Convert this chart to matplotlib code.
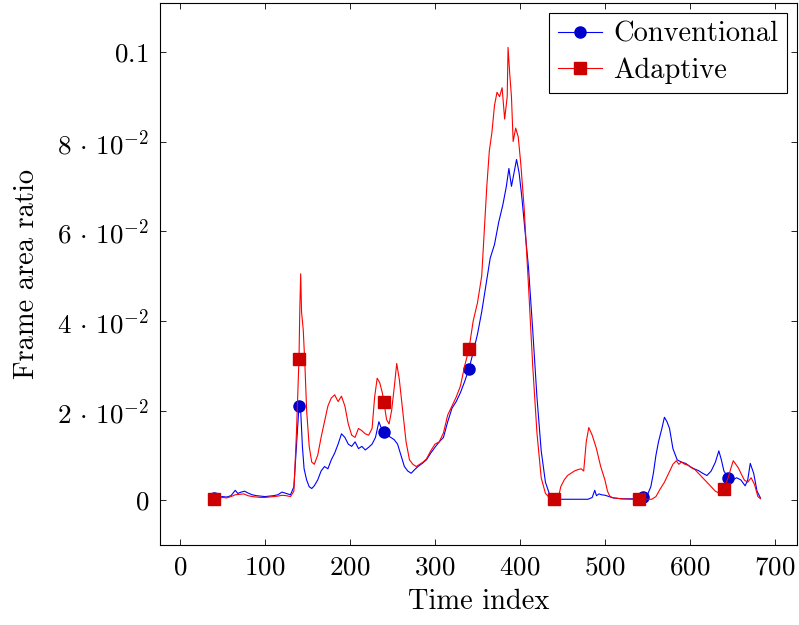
import numpy as np
import matplotlib
matplotlib.use("Agg")
import matplotlib.pyplot as plt

# Conventional (blue) series
conv_t = [40, 45, 50, 55, 60, 65, 68, 72, 76, 80, 85, 90, 95, 100, 105, 110, 115, 120, 125, 130,
          134, 137, 140, 142, 144, 146, 149, 152, 155, 158, 162, 166, 170, 174, 178, 182, 186, 190,
          194, 198, 202, 206, 210, 214, 218, 222, 226, 230, 234, 237, 240, 244, 248, 252, 256, 260,
          264, 268, 272, 276, 280, 285, 290, 295, 300, 305, 310, 315, 320, 325, 330, 335, 340, 345,
          350, 355, 360, 365, 370, 375, 380, 384, 387, 390, 393, 396, 399, 402, 405, 410, 415, 420,
          425, 430, 435, 440, 450, 460, 470, 480, 485, 488, 490, 493, 496, 500, 505, 510, 520, 530,
          540, 545, 550, 554, 557, 560, 563, 567, 570, 573, 576, 580, 585, 590, 595, 600, 605, 610,
          615, 620, 625, 630, 634, 637, 640, 645, 650, 655, 660, 665, 668, 671, 675, 679, 683]
conv_v = [0.0005, 0.0006, 0.0008, 0.0007, 0.001, 0.0022, 0.0015, 0.0018, 0.002, 0.0016, 0.0012,
          0.0010, 0.0009, 0.0008, 0.0009, 0.0010, 0.0012, 0.0018, 0.0015, 0.0012,
          0.0030, 0.0120, 0.0210, 0.0200, 0.0120, 0.0070, 0.0045, 0.0030, 0.0026, 0.0032, 0.0045,
          0.0065, 0.0075, 0.0070, 0.0090, 0.0105, 0.0125, 0.0148,
          0.0140, 0.0125, 0.0120, 0.0130, 0.0115, 0.0120, 0.0112, 0.0118, 0.0125, 0.0140, 0.0175,
          0.0160, 0.0153, 0.0145, 0.0140, 0.0135, 0.0125, 0.0100,
          0.0075, 0.0065, 0.0060, 0.0068, 0.0075, 0.0082, 0.0090, 0.0105, 0.0118, 0.0130, 0.0140,
          0.0175, 0.0205, 0.0220, 0.0240, 0.0265, 0.0293, 0.0330,
          0.0370, 0.0420, 0.0480, 0.0540, 0.0570, 0.0620, 0.0660, 0.0700, 0.0740, 0.0700, 0.0730,
          0.0760, 0.0730, 0.0680, 0.0620, 0.0520, 0.0380, 0.0230,
          0.0110, 0.0040, 0.0012, 0.0003, 0.0002, 0.0002, 0.0002, 0.0002, 0.0006, 0.0022, 0.0010,
          0.0014, 0.0012, 0.0011, 0.0008, 0.0005, 0.0003, 0.0003,
          0.0003, 0.0008, 0.0012, 0.0030, 0.0060, 0.0100, 0.0130, 0.0160, 0.0185, 0.0175, 0.0160,
          0.0115, 0.0090, 0.0085, 0.0082, 0.0075, 0.0070, 0.0066,
          0.0060, 0.0055, 0.0065, 0.0085, 0.0110, 0.0090, 0.0065, 0.0050, 0.0045, 0.0050, 0.0045,
          0.0032, 0.0045, 0.0082, 0.0060, 0.0020, 0.0005]

# Adaptive (red) series
adap_t = [40, 45, 50, 55, 60, 65, 70, 75, 80, 85, 90, 95, 100, 105, 110, 115, 120, 125, 130,
          134, 137, 140, 141, 142, 143, 145, 147, 149, 152, 155, 158, 162, 166, 170, 174, 178, 182,
          186, 190, 194, 198, 202, 206, 210, 214, 218, 222, 226, 229, 232, 235, 238, 240, 243, 246,
          249, 252, 255, 258, 262, 266, 270, 274, 278, 282, 286, 290, 295, 300, 305, 310, 315, 320,
          325, 330, 335, 340, 345, 350, 355, 358, 361, 364, 367, 370, 373, 376, 379, 382, 385, 386,
          388, 390, 392, 395, 398, 401, 405, 410, 415, 420, 425, 430, 435, 440, 445, 448, 452, 456,
          460, 464, 468, 472, 475, 478, 481, 485, 490, 495, 500, 503, 506, 510, 520, 530, 540, 550,
          555, 560, 565, 570, 575, 580, 584, 587, 590, 594, 598, 602, 606, 610, 615, 620, 625, 630,
          635, 640, 645, 648, 651, 654, 657, 660, 664, 668, 672, 676, 680, 683]
adap_v = [0.0003, 0.0004, 0.0006, 0.0005, 0.0008, 0.0012, 0.0013, 0.0014, 0.0010, 0.0008,
          0.0007, 0.0006, 0.0006, 0.0007, 0.0008, 0.0009, 0.0011, 0.0010, 0.0008,
          0.0020, 0.0150, 0.0315, 0.0430, 0.0505, 0.0420, 0.0380, 0.0300, 0.0200, 0.0120, 0.0085,
          0.0080, 0.0100, 0.0140, 0.0175, 0.0210, 0.0228, 0.0235,
          0.0220, 0.0232, 0.0210, 0.0170, 0.0145, 0.0140, 0.0160, 0.0155, 0.0148, 0.0145, 0.0160,
          0.0230, 0.0272, 0.0262, 0.0240, 0.0218, 0.0180, 0.0170,
          0.0200, 0.0250, 0.0305, 0.0270, 0.0200, 0.0130, 0.0090, 0.0080, 0.0075, 0.0080, 0.0085,
          0.0092, 0.0110, 0.0125, 0.0130, 0.0150, 0.0190, 0.0210,
          0.0230, 0.0255, 0.0300, 0.0337, 0.0400, 0.0440, 0.0500, 0.0600, 0.0700, 0.0780, 0.0820,
          0.0880, 0.0910, 0.0900, 0.0920, 0.0850, 0.0900, 0.1010,
          0.0950, 0.0900, 0.0800, 0.0830, 0.0810, 0.0750, 0.0650, 0.0480, 0.0300, 0.0150,
          0.0050, 0.0015, 0.0005, 0.0002, 0.0003, 0.0030, 0.0045, 0.0055,
          0.0060, 0.0065, 0.0068, 0.0070, 0.0065, 0.0130, 0.0162, 0.0145, 0.0115, 0.0075, 0.0045,
          0.0020, 0.0008, 0.0005, 0.0003, 0.0002, 0.0002, 0.0002,
          0.0002, 0.0008, 0.0025, 0.0040, 0.0060, 0.0080, 0.0088, 0.0080, 0.0085, 0.0080, 0.0078,
          0.0072, 0.0068, 0.0060, 0.0050, 0.0040, 0.0030, 0.0020,
          0.0015, 0.0025, 0.0050, 0.0070, 0.0088, 0.0080, 0.0072, 0.0060, 0.0045, 0.0040, 0.0050,
          0.0035, 0.0008, 0.0003]

conv_marks = [40, 140, 240, 340, 440, 545, 645]
adap_marks = [40, 140, 240, 340, 440, 540, 640]

yticks = [0, 0.02, 0.04, 0.06, 0.08, 0.1]
ytick_labels = ["$0$", r"$2\,\cdot\,10^{-2}$", r"$4\,\cdot\,10^{-2}$", r"$6\,\cdot\,10^{-2}$",
                r"$8\,\cdot\,10^{-2}$", "$0.1$"]
xticks = [0, 100, 200, 300, 400, 500, 600, 700]

plt.rcParams["font.family"] = "serif"
plt.rcParams["font.serif"] = ["cmr10", "DejaVu Serif"]
plt.rcParams["mathtext.fontset"] = "cm"
plt.rcParams["axes.unicode_minus"] = False

fig = plt.figure(figsize=(7.99, 6.25), dpi=100)
ax = fig.add_axes([0.2003, 0.128, 0.7972, 0.8672])

def mark_idx(ts, marks):
    return [int(np.argmin(np.abs(np.array(ts) - m))) for m in marks]

ax.plot(conv_t, conv_v, color="#0000ff", lw=0.8, marker="o", ms=8,
        mfc="#0000cc", mec="#0000cc", markevery=mark_idx(conv_t, conv_marks),
        label="Conventional")
ax.plot(adap_t, adap_v, color="#ff0000", lw=0.8, marker="s", ms=8,
        mfc="#cc0000", mec="#cc0000", markevery=mark_idx(adap_t, adap_marks),
        label="Adaptive")

ax.set_xlim(-23.5, 726)
ax.set_ylim(-0.01, 0.1109)
ax.set_xticks(xticks)
ax.set_xticklabels(["$%d$" % v for v in xticks])
ax.set_yticks(yticks)
ax.set_yticklabels(ytick_labels)
ax.tick_params(direction="in", top=True, right=True, length=4, width=0.6,
               labelsize=19.5, pad=8)
for s in ax.spines.values():
    s.set_linewidth(0.8)

ax.set_xlabel("Time index", fontsize=20.5, labelpad=6)
ax.set_ylabel("Frame area ratio", fontsize=20.5, labelpad=12)

leg = ax.legend(loc="upper right", fontsize=20.5, numpoints=1, fancybox=False,
                edgecolor="black", framealpha=1, handlelength=1.55,
                borderaxespad=0.35, labelspacing=0.35, handletextpad=0.4,
                borderpad=0.3)
leg.get_frame().set_linewidth(0.8)

fig.savefig("out.png", dpi=100)
